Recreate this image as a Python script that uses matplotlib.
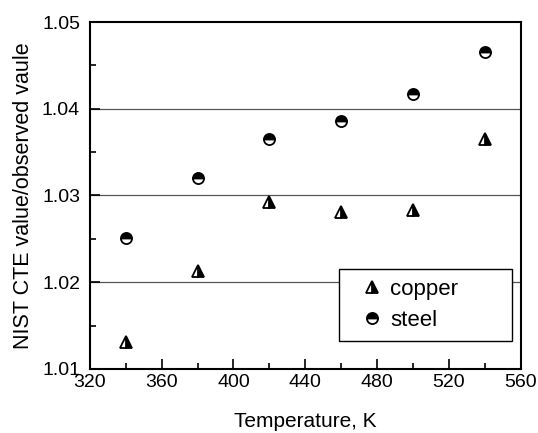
import numpy as np
import matplotlib.pyplot as plt
from matplotlib.ticker import MultipleLocator

plt.rcParams['font.family'] = ['Liberation Sans', 'DejaVu Sans']

temps = [340, 380, 420, 460, 500, 540]
copper = [1.0131, 1.0213, 1.0292, 1.0281, 1.0283, 1.0365]
steel = [1.0251, 1.0320, 1.0365, 1.0386, 1.0417, 1.0466]

fig = plt.figure(figsize=(5.38, 4.33), dpi=100)
ax = fig.add_axes([0.167, 0.148, 0.801, 0.801])

for y in [1.02, 1.03, 1.04]:
    ax.axhline(y, color='#555555', lw=0.9, zorder=1)

ax.plot(temps, copper, linestyle='none', marker='^', markersize=8.5,
        fillstyle='right', color='black', markerfacecoloralt='white',
        markeredgecolor='black', markeredgewidth=1.3, label='copper', zorder=3)
ax.plot(temps, steel, linestyle='none', marker='o', markersize=8,
        fillstyle='top', color='black', markerfacecoloralt='white',
        markeredgecolor='black', markeredgewidth=1.3, label='steel', zorder=3)

ax.set_xlim(320, 560)
ax.set_ylim(1.01, 1.05)
ax.xaxis.set_major_locator(MultipleLocator(40))
ax.xaxis.set_minor_locator(MultipleLocator(20))
ax.yaxis.set_major_locator(MultipleLocator(0.01))
ax.yaxis.set_minor_locator(MultipleLocator(0.005))
ax.tick_params(which='both', direction='in', top=False, right=False,
               labelsize=14, width=1.2)
ax.tick_params(axis='y', pad=7)
ax.tick_params(which='major', length=7)
ax.tick_params(which='minor', length=4)
for s in ax.spines.values():
    s.set_linewidth(1.5)

ax.set_xlabel('Temperature, K', fontsize=15, labelpad=15)
ax.set_ylabel('NIST CTE value/observed vaule', fontsize=15.5, labelpad=6)

# legend box stretched to the width seen in the original
leg = ax.legend(loc='lower left', bbox_to_anchor=(0.578, 0.081, 0.401, 0.2),
                mode='expand', fontsize=16, frameon=True, fancybox=False,
                edgecolor='black', borderpad=0.45, handlelength=2.07,
                handletextpad=-0.2, labelspacing=0.45, borderaxespad=0)
leg.get_frame().set_linewidth(1.0)
leg.get_frame().set_alpha(1)

fig.savefig('out.png', dpi=100)
